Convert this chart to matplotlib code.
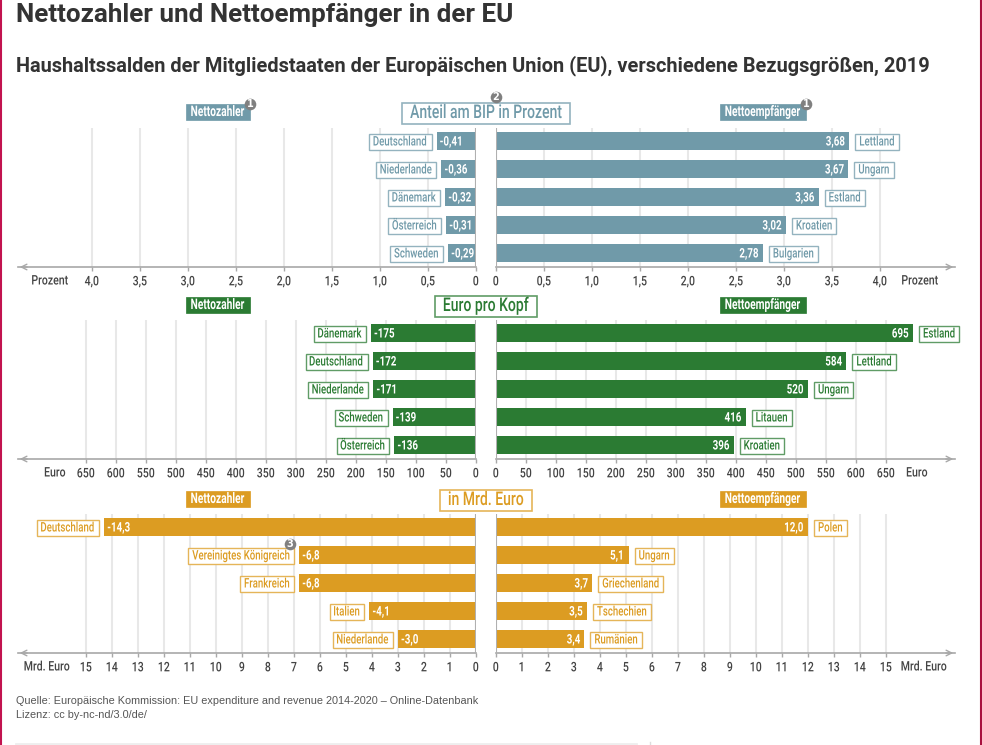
import matplotlib
matplotlib.use('Agg')
import matplotlib.pyplot as plt
from matplotlib.colors import to_rgb
from matplotlib.path import Path
from matplotlib.patheffects import AbstractPathEffect
from matplotlib.transforms import Affine2D

W, H = 982, 745
# no condensed Roboto on the system, so the glyphs get squeezed at draw time
COND = 'Roboto'

# panel 1: Anteil am BIP in Prozent
bip_payers = ['Deutschland', 'Niederlande', 'Dänemark', 'Österreich', 'Schweden']
bip_payer_vals = [0.41, 0.36, 0.32, 0.31, 0.29]
bip_recv = ['Lettland', 'Ungarn', 'Estland', 'Kroatien', 'Bulgarien']
bip_recv_vals = [3.68, 3.67, 3.36, 3.02, 2.78]
bip_ticks = [0, 0.5, 1.0, 1.5, 2.0, 2.5, 3.0, 3.5, 4.0]

# panel 2: Euro pro Kopf
kopf_payers = ['Dänemark', 'Deutschland', 'Niederlande', 'Schweden', 'Österreich']
kopf_payer_vals = [175, 172, 171, 139, 136]
kopf_recv = ['Estland', 'Lettland', 'Ungarn', 'Litauen', 'Kroatien']
kopf_recv_vals = [695, 584, 520, 416, 396]
kopf_ticks = list(range(0, 651, 50))

# panel 3: in Mrd. Euro
mrd_payers = ['Deutschland', 'Vereinigtes Königreich', 'Frankreich', 'Italien', 'Niederlande']
mrd_payer_vals = [14.3, 6.8, 6.8, 4.1, 3.0]
mrd_recv = ['Polen', 'Ungarn', 'Griechenland', 'Tschechien', 'Rumänien']
mrd_recv_vals = [12.0, 5.1, 3.7, 3.5, 3.4]
mrd_ticks = list(range(0, 16))

TEXT = '#444444'
AXIS = '#a8a8a8'
GRID = '#e8e8e8'
SX = 0.73


class Squeeze(AbstractPathEffect):
    def __init__(self, sx, ha):
        super().__init__()
        self.sx = sx
        self.ha = ha

    def draw_path(self, renderer, gc, tpath, affine, rgbFace=None):
        x0 = affine.get_matrix()[0, 2]
        w = tpath.get_extents(affine).width
        anchor = x0 + {'left': 0, 'center': w / 2, 'right': w}[self.ha]
        squeeze = Affine2D().translate(-anchor, 0).scale(self.sx, 1).translate(anchor, 0)
        renderer.draw_path(gc, tpath, affine + squeeze, rgbFace)


def box(sx, ha, padx, pady):
    # text bbox that follows the squeezed glyphs
    def style(x0, y0, width, height, mutation_size):
        w = width * sx
        shift = {'left': 0, 'center': (width - w) / 2, 'right': width - w}[ha]
        l, r = x0 + shift - padx, x0 + shift + w + padx
        b, t = y0 - pady, y0 + height + pady
        return Path([(l, b), (r, b), (r, t), (l, t), (l, b)], closed=True)
    return style


def pale(color, amount=0.75):
    return tuple(amount * c + (1 - amount) for c in to_rgb(color))


def de(v, dec):
    return f'{v:.{dec}f}'.replace('.', ',')


fig = plt.figure(figsize=(W / 100, H / 100), dpi=100, facecolor='white')
bg = fig.add_axes([0, 0, 1, 1], zorder=5)
bg.set_xlim(0, W)
bg.set_ylim(H, 0)
bg.axis('off')
bg.patch.set_alpha(0)


def px_axes(x0, x1, top, bottom):
    return fig.add_axes([x0 / W, 1 - bottom / H, (x1 - x0) / W, (bottom - top) / H])


def side(names_, vals, ticks, fmt, dec, scale, color, top, axis_y, first_y, left):
    if left:
        ax = px_axes(18, 476, top, axis_y)
        ax.set_xlim(458 / scale, 0)
    else:
        ax = px_axes(496, 955, top, axis_y)
        ax.set_xlim(0, 459 / scale)
    ax.set_ylim(4 + (axis_y - first_y - 112) / 28, -(first_y - top) / 28)
    ax.barh(range(len(vals)), vals, height=18 / 28, color=color, zorder=3)
    ax.set_xticks(ticks)
    labels = ax.set_xticklabels([fmt(t) for t in ticks], family=COND, fontsize=9.5, color=TEXT,
                                fontweight='medium')
    for lab in labels:
        lab.set_path_effects([Squeeze(0.8, 'center')])
    ax.set_yticks([])
    ax.grid(axis='x', color=GRID, lw=1.5, zorder=0)
    ax.set_axisbelow(True)
    ax.tick_params(axis='x', length=3, width=1, color=AXIS, pad=3)
    for s in ['top', 'left', 'right']:
        ax.spines[s].set_visible(False)
    ax.spines['bottom'].set_color(AXIS)
    ax.spines['bottom'].set_linewidth(1.2)
    ax.axvline(0, color='#b0b0b0', lw=1.5, zorder=4)
    ha_val = 'left' if left else 'right'
    ha_name = 'right' if left else 'left'
    for i, (n, v) in enumerate(zip(names_, vals)):
        txt = ('-' if left else '') + de(v, dec)
        t = ax.annotate(txt, (v, i), xytext=(3 if left else -4, -1), textcoords='offset pixels',
                        ha=ha_val, va='center', color='white', family=COND, fontsize=9.5,
                        fontweight='bold', zorder=5, annotation_clip=False)
        t.set_path_effects([Squeeze(0.74, ha_val)])
        t = ax.annotate(n, (v, i), xytext=(-9 if left else 10, -1), textcoords='offset pixels',
                        ha=ha_name, va='center', color=color, family=COND, fontsize=9.5,
                        fontweight='medium', zorder=5, annotation_clip=False,
                        bbox=dict(boxstyle=box(SX, ha_name, 4, 1.5), fc='white', ec=pale(color), lw=1))
        t.set_path_effects([Squeeze(SX, ha_name)])
    # arrow at the outer end
    if left:
        bg.annotate('', xy=(17, axis_y), xytext=(30, axis_y),
                    arrowprops=dict(arrowstyle='->', color=AXIS, lw=1))
    else:
        bg.annotate('', xy=(956, axis_y), xytext=(943, axis_y),
                    arrowprops=dict(arrowstyle='->', color=AXIS, lw=1))
    return ax


def header(y, title, color):
    kw = dict(ha='right', va='center', family=COND, color='white', fontsize=10.5, fontweight='bold')
    for x, s, sx in [(245, 'Nettozahler', 0.7), (801, 'Nettoempfänger', 0.7)]:
        t = bg.text(x, y, s, bbox=dict(boxstyle=box(sx, 'right', 5, 1), fc=color, ec=color, lw=0.5), **kw)
        t.set_path_effects([Squeeze(sx, 'right')])
    t = bg.text(486, y + 1, title, ha='center', va='center', family=COND, color=color, fontsize=13.6,
                fontweight='medium',
                bbox=dict(boxstyle=box(0.74, 'center', 8, 1.5), fc='white', ec=pale(color), lw=1.2))
    t.set_path_effects([Squeeze(0.74, 'center')])


def badge(x, y, s):
    bg.scatter([x], [y], s=70, color='#808080', linewidths=0, zorder=6)
    bg.text(x, y, s, ha='center', va='center', color='white', fontsize=7, fontweight='bold', zorder=7)


panels = [
    (bip_payers, bip_payer_vals, bip_recv, bip_recv_vals, bip_ticks,
     lambda t: '0' if t == 0 else de(t, 1), 2, 96.0, '#709aa9', 128, 267, 141,
     'Anteil am BIP in Prozent', 'Prozent', 50, 920, 112),
    (kopf_payers, kopf_payer_vals, kopf_recv, kopf_recv_vals, kopf_ticks,
     str, 0, 0.6, '#2b7b33', 320, 459, 333,
     'Euro pro Kopf', 'Euro', 55, 917, 305),
    (mrd_payers, mrd_payer_vals, mrd_recv, mrd_recv_vals, mrd_ticks,
     str, 1, 26.0, '#dc9c22', 514, 653, 527,
     'in Mrd. Euro', 'Mrd. Euro', 47, 924, 499),
]
for p in panels:
    pn, pv, rn, rv, ticks, fmt, dec, scale, color, top, axis_y, first_y, title, unit, ux0, ux1, head_y = p
    side(pn, pv, ticks, fmt, dec, scale, color, top, axis_y, first_y, True)
    side(rn, rv, ticks, fmt, dec, scale, color, top, axis_y, first_y, False)
    header(head_y, title, color)
    for ux in (ux0, ux1):
        t = bg.text(ux, axis_y + 14, unit, ha='center', va='center', family=COND, fontsize=9.5,
                    fontweight='medium', color=TEXT)
        t.set_path_effects([Squeeze(0.8, 'center')])

badge(250, 104, '1')
badge(806, 104, '1')
badge(496, 97, '2')
badge(290, 544, '3')

bg.text(16, 15, 'Nettozahler und Nettoempfänger in der EU', family='Roboto', fontweight='bold',
        fontsize=18.7, color='#333333', ha='left', va='center')
bg.text(16, 66, 'Haushaltssalden der Mitgliedstaaten der Europäischen Union (EU), verschiedene Bezugsgrößen, 2019',
        family='Roboto', fontweight='bold', fontsize=14.37, color='#333333', ha='left', va='center')
bg.text(16, 700.5, 'Quelle: Europäische Kommission: EU expenditure and revenue 2014-2020 – Online-Datenbank',
        family='Liberation Sans', fontsize=7.85, color='#555555', ha='left', va='center')
bg.text(16, 715.5, 'Lizenz: cc by-nc-nd/3.0/de/', family='Liberation Sans', fontsize=7.85,
        color='#555555', ha='left', va='center')

# page edge and the strip at the bottom
bg.axvline(0.5, color='#c2134f', lw=1.5)
bg.axvline(981.5, color='#a8123f', lw=1.5)
bg.plot([16, 636], [744, 744], color='#eeeeee', lw=2)
bg.plot([650.5, 650.5], [742, 745], color='#dddddd', lw=1)

fig.savefig('out.png', dpi=100)
